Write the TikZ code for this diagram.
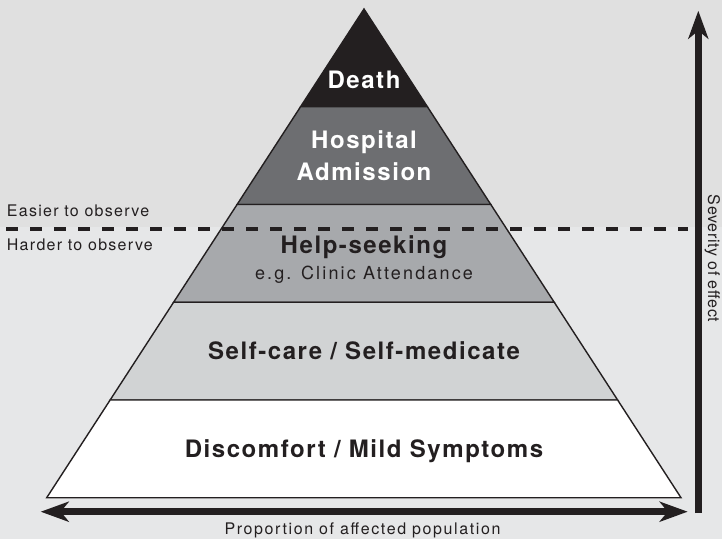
\documentclass[tikz,border=0pt]{standalone}
\usepackage{fontspec}
\setmainfont{TeX Gyre Heros}[LetterSpace=8]
\newfontfamily\tierfont{TeX Gyre Heros}[LetterSpace=6.5]
\newfontfamily\egfont{TeX Gyre Heros}[LetterSpace=12]
\newfontfamily\propfont{TeX Gyre Heros}[LetterSpace=10]
\newfontfamily\sevfont{TeX Gyre Heros}[LetterSpace=4]
\usetikzlibrary{calc,arrows.meta}

\definecolor{topbg}{RGB}{224,224,224}
\definecolor{lowbg}{RGB}{230,231,232}
\definecolor{ink}{RGB}{35,31,32}
\definecolor{deathcol}{RGB}{35,31,32}
\definecolor{hospcol}{RGB}{109,110,113}
\definecolor{helpcol}{RGB}{167,169,172}
\definecolor{selfcol}{RGB}{209,211,212}

\tikzset{
    bigtip/.tip={Stealth[length=28pt, width=20pt, inset=8pt]},
    tier/.style={font=\tierfont\fontsize{24}{28}\selectfont\bfseries, anchor=base, inner sep=0pt},
    side/.style={font=\fontsize{16}{19}\selectfont, text=ink, anchor=base west, inner sep=0pt},
    layeredge/.style={draw=ink, line width=1.4pt, line join=miter},
    bigline/.style={draw=ink, line width=6.5pt}
}

\begin{document}
\begin{tikzpicture}[x=1pt, y=-1pt]
    \fill [lowbg] (0,0) rectangle (722,539);
    \fill [topbg] (0,0) rectangle (722,227);
    \useasboundingbox (0,0) rectangle (722,539);

    \coordinate (apex) at (364,9);
    \coordinate (bl) at (46.7,497.7);
    \coordinate (br) at (681,497.7);

    \foreach \a/\b/\col in {0/0.2/deathcol, 0.2/0.4/hospcol, 0.4/0.6/helpcol, 0.6/0.8/selfcol, 0.8/1/white}
        \filldraw [layeredge, fill=\col] ($(apex)!\a!(bl)$) -- ($(apex)!\b!(bl)$) -- ($(apex)!\b!(br)$) -- ($(apex)!\a!(br)$) -- cycle;

    \node [tier, white] (death) at (364,88.3) {Death};
    \node [tier, white] (hosp) at (364,148.3) {Hospital};
    \node [tier, white] (adm) at (364,180) {Admission};
    \node [tier, text=ink] (help) at (364,253.3) {Help-seeking};
    \node [anchor=base, inner sep=0pt, text=ink, font=\egfont\fontsize{18}{21}\selectfont] (clinic) at (364,279) {e.g. Clinic Attendance};
    \node [tier, text=ink] (self) at (364,359.3) {Self-care / Self-medicate};
    \node [tier, text=ink] (mild) at (364,457.3) {Discomfort / Mild Symptoms};

    \coordinate (dl) at (6,229);
    \coordinate (dr) at (688,229);
    \draw [ink, line width=3.3pt, dash pattern=on 12.3pt off 11.7pt] (dl) -- (dr);
    \node [side] (easier) at (6.7,216.7) {Easier to observe};
    \node [side] (harder) at (6.7,250.7) {Harder to observe};

    \coordinate (popl) at (40.7,511.7);
    \coordinate (popr) at (687.7,511.7);
    \draw [bigline, bigtip-bigtip] (popl) -- (popr);
    \node [anchor=base, inner sep=0pt, text=ink, font=\propfont\fontsize{16}{19}\selectfont] (prop) at (362.5,534) {Proportion of affected population};

    \coordinate (sevb) at (698.3,513);
    \coordinate (sevt) at (698.3,10.7);
    \draw [bigline, -bigtip] (sevb) -- (sevt);
    \node [anchor=base, inner sep=0pt, rotate=-90, text=ink, font=\sevfont\fontsize{16}{19}\selectfont] (sev) at (708,258.5) {Severity of effect};
\end{tikzpicture}
\end{document}
